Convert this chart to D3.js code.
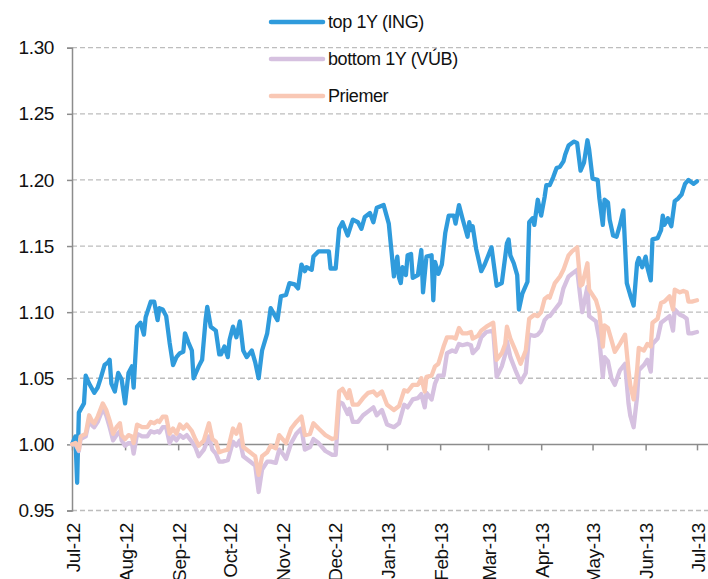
<!DOCTYPE html>
<html>
<head>
<meta charset="utf-8">
<script src="https://cdn.jsdelivr.net/npm/d3@7"></script>
<style>
  body { margin: 0; background: #fff; }
  text { font-family: "Liberation Sans", Arial, sans-serif; fill: #111; letter-spacing: -0.4px; }
</style>
</head>
<body>
<div id="chart"></div>
<script>
const width = 708;
const height = 579;

// Series names (legend order)
const seriesNames = ["top 1Y (ING)", "bottom 1Y (VÚB)", "Priemer"];

// y ticks
const yTicks = [0.95, 1.00, 1.05, 1.10, 1.15, 1.20, 1.25, 1.30];

// top 1Y (ING)
const topDates = [
  "12-07-01","12-07-03","12-07-04","12-07-05","12-07-08","12-07-09","12-07-11","12-07-14","12-07-16","12-07-18","12-07-20","12-07-22","12-07-23","12-07-24","12-07-26","12-07-28","12-07-30",
  "12-08-01","12-08-03","12-08-05","12-08-06","12-08-08","12-08-10","12-08-12","12-08-13","12-08-16","12-08-18","12-08-20","12-08-21","12-08-23","12-08-25","12-08-27","12-08-29","12-08-31",
  "12-09-02","12-09-04","12-09-05","12-09-07","12-09-09","12-09-10","12-09-13","12-09-15","12-09-17","12-09-18","12-09-20","12-09-23","12-09-25","12-09-26","12-09-28","12-09-30",
  "12-10-01","12-10-03","12-10-05","12-10-07","12-10-09","12-10-11","12-10-14","12-10-16","12-10-18","12-10-20","12-10-23","12-10-25","12-10-29","12-10-31",
  "12-11-03","12-11-05","12-11-08","12-11-10","12-11-12","12-11-14","12-11-15","12-11-18","12-11-19","12-11-22","12-11-28","12-11-29",
  "12-12-02","12-12-04","12-12-06","12-12-09","12-12-12","12-12-15","12-12-17","12-12-19","12-12-22","12-12-24","12-12-26","12-12-30",
  "13-01-02","13-01-05","13-01-07","13-01-08","13-01-09","13-01-10","13-01-12","13-01-13","13-01-15","13-01-16","13-01-19","13-01-21","13-01-22","13-01-24","13-01-27","13-01-28","13-01-29","13-01-31",
  "13-02-02","13-02-04","13-02-06","13-02-09","13-02-10","13-02-12","13-02-14","13-02-17","13-02-18","13-02-19","13-02-20","13-02-22","13-02-25","13-02-27",
  "13-03-03","13-03-06","13-03-09","13-03-12","13-03-13","13-03-14","13-03-16","13-03-18","13-03-19","13-03-21","13-03-24","13-03-25","13-03-27","13-03-28","13-03-30",
  "13-04-01","13-04-03","13-04-04","13-04-06","13-04-08","13-04-10","13-04-12","13-04-14","13-04-15","13-04-17","13-04-20","13-04-22","13-04-24","13-04-26","13-04-28","13-04-29",
  "13-05-01","13-05-04","13-05-05","13-05-07","13-05-08","13-05-10","13-05-11","13-05-13","13-05-15","13-05-17","13-05-19","13-05-21","13-05-23","13-05-25","13-05-27","13-05-28","13-05-30",
  "13-06-01","13-06-02","13-06-04","13-06-05","13-06-08","13-06-10","13-06-11","13-06-12","13-06-14","13-06-16","13-06-18","13-06-20","13-06-22","13-06-24","13-06-26","13-06-29",
  "13-07-01"
];
const topValues = [
  1.000,1.006,0.971,1.024,1.031,1.052,1.046,1.039,1.043,1.051,1.060,1.062,1.064,1.046,1.040,1.054,1.049,
  1.031,1.054,1.059,1.043,1.089,1.092,1.083,1.096,1.108,1.108,1.094,1.103,1.102,1.097,1.077,1.060,1.066,
  1.069,1.070,1.084,1.077,1.071,1.050,1.059,1.064,1.094,1.104,1.089,1.086,1.068,1.068,1.074,1.066,
  1.079,1.089,1.081,1.093,1.071,1.066,1.071,1.062,1.050,1.071,1.084,1.103,1.094,1.112,
  1.113,1.122,1.121,1.118,1.136,1.131,1.134,1.132,1.142,1.146,1.146,1.133,
  1.133,1.163,1.168,1.158,1.170,1.168,1.163,1.172,1.175,1.168,1.179,1.181,
  1.167,1.127,1.142,1.126,1.122,1.134,1.128,1.143,1.144,1.126,1.128,1.147,1.115,1.142,1.143,1.109,1.138,1.129,
  1.136,1.160,1.173,1.173,1.167,1.181,1.171,1.157,1.168,1.162,1.165,1.148,1.131,1.136,
  1.149,1.120,1.122,1.152,1.155,1.143,1.137,1.128,1.102,1.114,1.123,1.168,1.171,1.166,1.185,
  1.173,1.187,1.196,1.196,1.202,1.209,1.210,1.214,1.219,1.226,1.229,1.228,1.207,1.213,1.230,1.223,
  1.201,1.200,1.186,1.166,1.185,1.183,1.170,1.158,1.157,1.166,1.177,1.122,1.113,1.105,1.137,1.141,1.134,
  1.142,1.134,1.124,1.155,1.156,1.162,1.173,1.166,1.171,1.165,1.184,1.186,1.189,1.197,1.200,1.197,
  1.199
];

// bottom 1Y (VÚB) and Priemer share dates
const avgDates = [
  "12-07-01","12-07-03","12-07-05","12-07-06","12-07-09","12-07-11","12-07-13","12-07-14","12-07-16","12-07-19","12-07-21","12-07-23","12-07-25","12-07-27","12-07-29","12-07-30",
  "12-08-01","12-08-03","12-08-05","12-08-06","12-08-08","12-08-11","12-08-14","12-08-16","12-08-18","12-08-20","12-08-21","12-08-23","12-08-25","12-08-27","12-08-29","12-08-31",
  "12-09-02","12-09-04","12-09-06","12-09-09","12-09-11","12-09-13","12-09-16","12-09-19","12-09-21","12-09-23","12-09-25","12-09-27","12-09-30",
  "12-10-03","12-10-05","12-10-07","12-10-09","12-10-13","12-10-16","12-10-18","12-10-20","12-10-23","12-10-25","12-10-28","12-10-30",
  "12-11-01","12-11-03","12-11-06","12-11-09","12-11-12","12-11-14","12-11-17","12-11-19","12-11-22","12-11-26","12-11-30",
  "12-12-02","12-12-04","12-12-06","12-12-09","12-12-10","12-12-12","12-12-15","12-12-18","12-12-21","12-12-24","12-12-26","12-12-29",
  "13-01-01","13-01-05","13-01-08","13-01-11","13-01-13","13-01-16","13-01-19","13-01-21","13-01-23","13-01-24","13-01-27","13-01-29","13-01-31",
  "13-02-03","13-02-05","13-02-08","13-02-10","13-02-12","13-02-14","13-02-17","13-02-19","13-02-20","13-02-23","13-02-25","13-02-28",
  "13-03-04","13-03-06","13-03-09","13-03-11","13-03-12","13-03-14","13-03-17","13-03-20","13-03-23","13-03-25","13-03-28","13-03-30",
  "13-04-01","13-04-03","13-04-05","13-04-06","13-04-09","13-04-12","13-04-14","13-04-17","13-04-19","13-04-22","13-04-24","13-04-25","13-04-28","13-04-29",
  "13-05-03","13-05-05","13-05-07","13-05-08","13-05-10","13-05-12","13-05-14","13-05-17","13-05-20","13-05-22","13-05-23","13-05-25","13-05-27","13-05-28","13-05-31",
  "13-06-02","13-06-04","13-06-05","13-06-08","13-06-10","13-06-12","13-06-15","13-06-17","13-06-18","13-06-21","13-06-23","13-06-25","13-06-26","13-06-28",
  "13-07-01"
];
const bottomValues = [
  1.000,1.000,0.995,1.004,1.006,1.018,1.014,1.013,1.017,1.027,1.022,1.013,1.003,1.007,1.010,1.003,
  0.999,1.001,1.001,0.993,1.008,1.006,1.006,1.010,1.009,1.010,1.009,1.013,1.013,1.001,1.006,1.003,
  1.007,1.005,1.007,1.002,0.998,0.991,0.996,1.006,0.996,0.993,0.987,0.987,0.988,
  1.002,0.999,1.003,0.991,0.987,0.984,0.964,0.981,0.987,0.987,0.986,0.996,
  0.993,0.989,1.001,1.008,1.012,0.996,0.998,1.004,1.001,0.995,0.992,
  0.992,1.032,1.031,1.023,1.027,1.017,1.017,1.022,1.025,1.028,1.022,1.026,
  1.015,1.013,1.016,1.030,1.028,1.034,1.035,1.038,1.028,1.039,1.034,1.046,1.052,
  1.052,1.069,1.071,1.070,1.076,1.075,1.076,1.075,1.069,1.073,1.081,1.085,
  1.086,1.051,1.059,1.068,1.078,1.066,1.056,1.047,1.054,1.083,1.082,1.083,
  1.086,1.094,1.097,1.097,1.102,1.107,1.118,1.127,1.129,1.132,1.110,1.100,1.119,1.097,
  1.093,1.079,1.051,1.066,1.063,1.050,1.045,1.056,1.061,1.031,1.022,1.013,1.036,1.056,1.060,
  1.064,1.055,1.076,1.080,1.092,1.094,1.097,1.086,1.102,1.098,1.097,1.095,1.084,1.084,
  1.085
];
const priemerValues = [
  1.000,1.001,0.996,1.006,1.008,1.022,1.017,1.016,1.021,1.031,1.026,1.018,1.008,1.013,1.016,1.007,
  1.004,1.007,1.006,1.001,1.015,1.013,1.013,1.017,1.016,1.018,1.017,1.021,1.021,1.008,1.012,1.008,
  1.015,1.012,1.015,1.010,1.004,0.999,1.003,1.016,1.004,1.002,0.994,0.995,0.996,
  1.012,1.008,1.015,0.998,0.994,0.991,0.977,0.991,0.994,0.999,0.997,1.007,
  1.004,1.001,1.012,1.017,1.021,1.007,1.008,1.016,1.012,1.007,1.004,
  1.005,1.040,1.042,1.035,1.041,1.030,1.030,1.035,1.039,1.040,1.037,1.040,
  1.030,1.026,1.029,1.041,1.040,1.045,1.045,1.050,1.040,1.051,1.052,1.059,1.061,
  1.074,1.081,1.081,1.080,1.088,1.084,1.084,1.085,1.080,1.082,1.086,1.089,
  1.092,1.064,1.069,1.076,1.089,1.080,1.071,1.061,1.071,1.095,1.098,1.097,
  1.100,1.110,1.112,1.111,1.122,1.127,1.132,1.143,1.146,1.149,1.120,1.121,1.137,1.117,
  1.109,1.100,1.074,1.090,1.088,1.079,1.070,1.076,1.083,1.056,1.045,1.034,1.056,1.073,1.071,
  1.076,1.074,1.092,1.095,1.107,1.108,1.112,1.102,1.117,1.115,1.116,1.115,1.108,1.108,
  1.109
];

const colors = ["#2f9bdc", "#d6c1e0", "#f9c8b5"];

const parse = d3.timeParse("%y-%m-%d");

const series = [
  { name: seriesNames[0], color: colors[0], values: topDates.map((d, i) => ({ date: parse(d), value: topValues[i] })) },
  { name: seriesNames[1], color: colors[1], values: avgDates.map((d, i) => ({ date: parse(d), value: bottomValues[i] })) },
  { name: seriesNames[2], color: colors[2], values: avgDates.map((d, i) => ({ date: parse(d), value: priemerValues[i] })) }
];

const svg = d3.select("#chart")
  .append("svg")
    .attr("width", width)
    .attr("height", height);

// Scales
const x = d3.scaleTime()
    .domain([parse("12-07-01"), parse("13-07-01")])
    .range([72, 697]);

const y = d3.scaleLinear()
    .domain([0.95, 1.30])
    .range([510.5, 47.7]);

const plotLeft = 72;
const plotRight = 708;

// Horizontal gridlines (1.00 is drawn solid as the category axis)
svg.append("g")
  .selectAll("line")
  .data(yTicks.filter(d => Math.abs(d - 1) > 1e-9))
  .enter().append("line")
    .attr("x1", plotLeft)
    .attr("x2", plotRight)
    .attr("y1", d => y(d))
    .attr("y2", d => y(d))
    .attr("stroke", "#bdbdbd")
    .attr("stroke-width", 1.3)
    .attr("stroke-dasharray", "5,3");

// Y axis
const yAxis = svg.append("g")
    .attr("transform", `translate(${plotLeft},0)`)
    .call(d3.axisLeft(y).tickValues(yTicks).tickFormat(d3.format(".2f")).tickSize(5).tickPadding(13));
yAxis.select(".domain").attr("stroke", "#8c8c8c").attr("stroke-width", 1.5);
yAxis.selectAll(".tick line").attr("stroke", "#8c8c8c").attr("stroke-width", 1.5);
yAxis.selectAll(".tick text")
    .attr("font-size", 19)
    .attr("font-family", "Liberation Sans, Arial, sans-serif")
    .attr("fill", "#111");

// X axis on the 1.00 line
const xAxis = svg.append("g")
    .attr("transform", `translate(0,${y(1.0)})`)
    .call(d3.axisBottom(x).ticks(d3.timeMonth.every(1)).tickFormat("").tickSize(6).tickSizeOuter(0));
xAxis.select(".domain").attr("d", `M${plotLeft},0H${plotRight}`).attr("stroke", "#8c8c8c").attr("stroke-width", 1.5);
xAxis.selectAll(".tick line").attr("stroke", "#8c8c8c").attr("stroke-width", 1.5);

// Month labels below the plot
const months = d3.timeMonth.range(parse("12-07-01"), d3.timeDay.offset(parse("13-07-01"), 1));
svg.append("g")
  .selectAll("text")
  .data(months)
  .enter().append("text")
    .attr("transform", d => `translate(${x(d) + 1},523) rotate(-90)`)
    .attr("text-anchor", "end")
    .attr("dy", "0.35em")
    .attr("font-size", 19)
    .text(d => d3.timeFormat("%b-%y")(d));

// Lines
const line = d3.line()
    .x(d => x(d.date))
    .y(d => y(d.value));

svg.append("g")
  .selectAll("path")
  .data(series)
  .enter().append("path")
    .attr("d", d => line(d.values))
    .attr("fill", "none")
    .attr("stroke", d => d.color)
    .attr("stroke-width", 4.3)
    .attr("stroke-linejoin", "round")
    .attr("stroke-linecap", "round");

// Legend
const legend = svg.append("g")
  .selectAll("g")
  .data(series)
  .enter().append("g")
    .attr("transform", (d, i) => `translate(270,${22 + i * 37})`);

legend.append("line")
    .attr("x1", 1)
    .attr("x2", 53)
    .attr("stroke", d => d.color)
    .attr("stroke-width", 4.5)
    .attr("stroke-linecap", "round");

legend.append("text")
    .attr("x", 58)
    .attr("dy", "0.35em")
    .attr("font-size", 18)
    .text(d => d.name);
</script>
</body>
</html>
